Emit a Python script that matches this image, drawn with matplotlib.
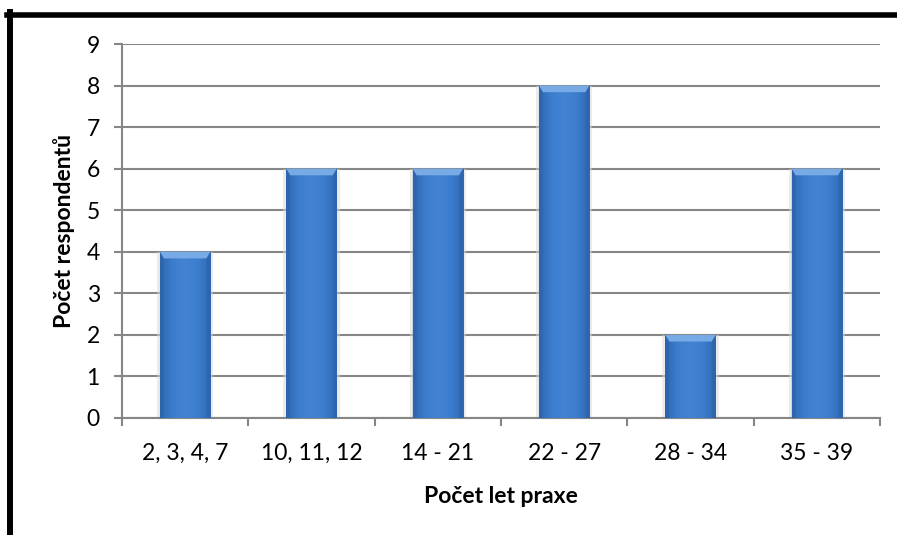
import numpy as np
import matplotlib
matplotlib.use("Agg")
import matplotlib.pyplot as plt
from matplotlib.lines import Line2D
from matplotlib.colors import LinearSegmentedColormap

categories = ["2, 3, 4, 7", "10, 11, 12", "14 - 21", "22 - 27", "28 - 34", "35 - 39"]
values = [4, 6, 6, 8, 2, 6]
yticks = list(range(0, 10))
xlabel = "Počet let praxe"
ylabel = "Počet respondentů"

plt.rcParams['font.family'] = ['Lato', 'DejaVu Sans']

W, H = 897, 535
fig = plt.figure(figsize=(W / 100, H / 100), dpi=100)
fig.patch.set_facecolor("white")
ax = fig.add_axes([122 / W, 1 - 418 / H, (880 - 122) / W, (418 - 44) / H])

x = np.arange(len(categories))
bars = ax.bar(x, values, width=0.40, color="#3b78c6", zorder=3, linewidth=0)

cmap = LinearSegmentedColormap.from_list(
    "bevel", ["#2f68b2", "#3c7dcd", "#4284d3", "#3c7dcd", "#2f68b2"])
grad = np.linspace(0, 1, 256).reshape(1, -1)
for b in bars:
    bx, bw, bh = b.get_x(), b.get_width(), b.get_height()
    # soft shadow
    ax.bar(bx + bw / 2, bh, width=bw * 1.12, bottom=0, color="#d8d8d8",
           alpha=0.5, zorder=2, linewidth=0)
    im = ax.imshow(grad, extent=[bx, bx + bw, 0, bh], aspect="auto",
                   cmap=cmap, zorder=4, interpolation="bicubic")
    im.set_clip_path(b)
    # top bevel
    tb = 0.16
    ax.fill([bx, bx + bw, bx + bw - bw * 0.08, bx + bw * 0.08],
            [bh, bh, bh - tb, bh - tb], color="#78aae6", zorder=5, linewidth=0)
    ax.fill([bx, bx + bw * 0.08, bx + bw * 0.08, bx],
            [bh, bh - tb, 0, 0], color="#2b5e9f", alpha=0.35, zorder=5, linewidth=0)
    ax.fill([bx + bw, bx + bw - bw * 0.08, bx + bw - bw * 0.08, bx + bw],
            [bh, bh - tb, 0, 0], color="#2b5e9f", alpha=0.35, zorder=5, linewidth=0)

ax.set_xlim(-0.5, len(categories) - 0.5)
ax.set_ylim(0, 9)
ax.set_yticks(yticks)
ax.set_yticklabels([str(t) for t in yticks])
ax.set_xticks(np.arange(-0.5, len(categories), 1.0), minor=False)
ax.set_xticklabels([])
ax.set_xticks(x, minor=True)
ax.set_xticklabels(categories, minor=True)

ax.yaxis.grid(True, color="#868686", linewidth=1.5, zorder=1)
ax.set_axisbelow(True)
for s in ["top", "right"]:
    ax.spines[s].set_visible(False)
for s in ["left", "bottom"]:
    ax.spines[s].set_color("#868686")
    ax.spines[s].set_linewidth(1.5)

ax.tick_params(axis="y", which="major", length=6, width=1.5, color="#868686",
               labelsize=16.5, pad=10, labelcolor="black")
ax.tick_params(axis="x", which="major", length=6, width=1.5, color="#868686",
               direction="out")
ax.tick_params(axis="x", which="minor", length=0, labelsize=16.5, pad=18,
               labelcolor="black")

ax.set_xlabel(xlabel, fontsize=16.5, fontweight="bold", labelpad=16)
ax.set_ylabel(ylabel, fontsize=16.5, fontweight="bold", labelpad=8)

# outer black frame (left and top visible)
fig.add_artist(Line2D([10 / W, 10 / W], [0, 1 - 12 / H], color="black",
                      linewidth=4.3, transform=fig.transFigure))
fig.add_artist(Line2D([7 / W, 1], [1 - 14.5 / H, 1 - 14.5 / H], color="black",
                      linewidth=4.0, transform=fig.transFigure))

fig.savefig("out.png", dpi=100, facecolor="white")
